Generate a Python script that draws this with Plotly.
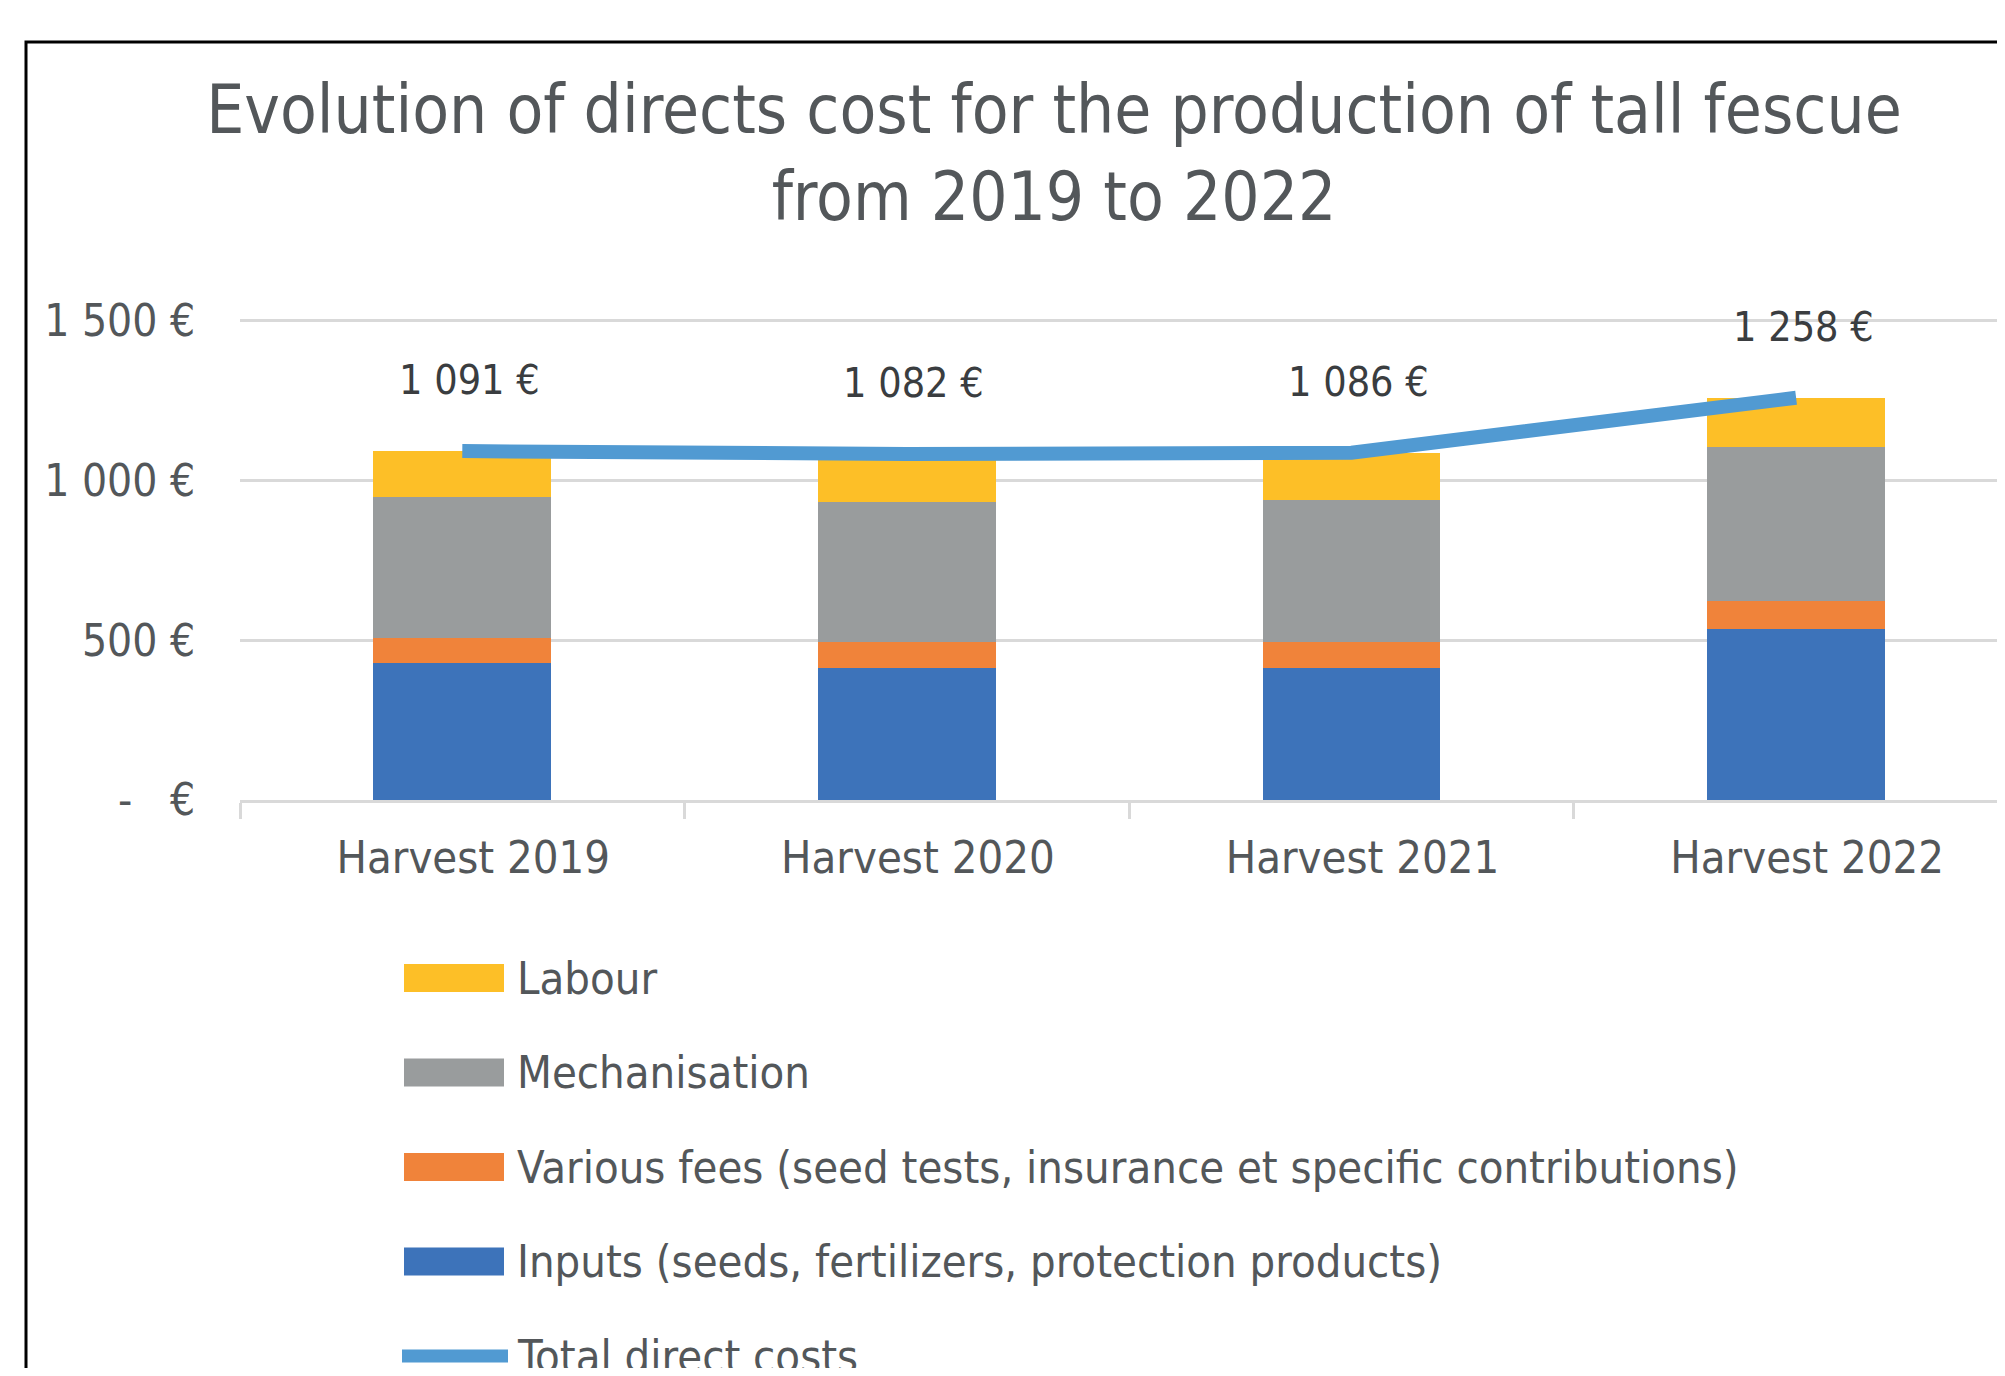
import plotly.graph_objects as go

# ---- data ----
categories = ["Harvest 2019", "Harvest 2020", "Harvest 2021", "Harvest 2022"]
inputs = [427, 412, 412, 534]
fees = [81, 81, 81, 87]
mechanisation = [439, 440, 446, 484]
labour = [144, 149, 147, 153]
totals = [1091, 1082, 1086, 1258]
total_labels = ["1 091 €", "1 082 €", "1 086 €", "1 258 €"]
y_tickvals = [0, 500, 1000, 1500]
y_ticktext = ["-\u00a0\u00a0\u00a0€", "500 €", "1 000 €", "1 500 €"]

series_names = [
    "Inputs (seeds, fertilizers, protection products)",
    "Various fees (seed tests, insurance et specific contributions)",
    "Mechanisation",
    "Labour",
]
colors = {
    "inputs": "#3d73ba",
    "fees": "#f0833a",
    "mech": "#999c9d",
    "labour": "#fdbf27",
    "line": "#519ad2",
}

FONT = "DejaVu Sans Condensed, Liberation Sans Narrow, sans-serif"
TXT = "#53575a"
LBL = "#3a3d40"

# page has an 8px body margin: figure coordinates = reference pixel - 8
OFF = 8
W, H = 2005 - 2 * OFF, 1376 - 2 * OFF
L = 240 - OFF
T = 250 - OFF
BOTTOM = 800 - OFF
R = 0
B = H - BOTTOM
PW, PH = W - L - R, H - T - B
CAT_PX = 444.6


def px(x):
    return (x - OFF - L) / PW


def py(y):
    return (BOTTOM - (y - OFF)) / PH


fig = go.Figure()
for name, vals, c in [
    (series_names[0], inputs, colors["inputs"]),
    (series_names[1], fees, colors["fees"]),
    (series_names[2], mechanisation, colors["mech"]),
    (series_names[3], labour, colors["labour"]),
]:
    fig.add_trace(go.Bar(x=categories, y=vals, name=name, marker=dict(color=c, line=dict(width=0)),
                         showlegend=False))

fig.add_trace(go.Scatter(x=categories, y=totals, name="Total direct costs", mode="lines",
                         line=dict(color=colors["line"], width=14), showlegend=False))

annotations = []
for cat, tot, lab in zip(categories, totals, total_labels):
    annotations.append(dict(x=cat, y=tot, text=lab, showarrow=False, xshift=7, yshift=71,
                            yanchor="middle", font=dict(family=FONT, size=41, color=LBL)))

# legend (manual, to reproduce wide Excel-style keys)
legend_items = [
    ("Labour", colors["labour"], "rect"),
    ("Mechanisation", colors["mech"], "rect"),
    (series_names[1], colors["fees"], "rect"),
    (series_names[0], colors["inputs"], "rect"),
    ("Total direct costs", colors["line"], "line"),
]
shapes = []
row_y0, row_step = 978, 94.5
for i, (name, c, kind) in enumerate(legend_items):
    cy = row_y0 + i * row_step
    if kind == "rect":
        shapes.append(dict(type="rect", xref="paper", yref="paper",
                           x0=px(404), x1=px(504), y0=py(cy - 14), y1=py(cy + 14),
                           fillcolor=c, line=dict(width=0)))
    else:
        shapes.append(dict(type="line", xref="paper", yref="paper",
                           x0=px(402), x1=px(508), y0=py(cy), y1=py(cy),
                           line=dict(color=c, width=13)))
    annotations.append(dict(xref="paper", yref="paper", x=px(515), y=py(cy), text=name,
                            showarrow=False, xanchor="left", yanchor="middle",
                            font=dict(family=FONT, size=45, color=TXT)))

# outer chart border (cropped on right/bottom)
shapes.append(dict(type="rect", xref="paper", yref="paper", x0=px(26), x1=px(2040),
                   y0=py(42), y1=py(1440), line=dict(color="black", width=3),
                   fillcolor="rgba(0,0,0,0)", layer="above"))

fig.update_layout(
    width=W, height=H,
    margin=dict(l=L, r=R, t=T, b=B, autoexpand=False),
    paper_bgcolor="white", plot_bgcolor="white",
    barmode="stack", bargap=0.6,
    title=dict(text="Evolution of directs cost for the production of tall fescue<br>from 2019 to 2022",
               x=(1054 - OFF) / W, xanchor="center", xref="container",
               y=1 - (133 - OFF) / H, yanchor="middle", yref="container",
               font=dict(family=FONT, size=67, color=TXT)),
    font=dict(family=FONT, color=TXT),
    showlegend=False,
    annotations=annotations,
    shapes=shapes,
)
fig.update_xaxes(type="category", range=[-0.5, -0.5 + PW / CAT_PX],
                 showline=True, linecolor="#d9d9d9", linewidth=3,
                 ticks="outside", tickson="boundaries", ticklen=16, tickwidth=3, tickcolor="#d9d9d9",
                 ticklabelshift=11, ticklabelstandoff=16,
                 tickfont=dict(family=FONT, size=45, color=TXT), showgrid=False)
fig.update_yaxes(range=[0, PH / 0.3198], tickvals=y_tickvals, ticktext=y_ticktext,
                 showgrid=True, gridcolor="#d9d9d9", gridwidth=3, zeroline=False,
                 ticks="outside", ticklen=35, tickcolor="rgba(0,0,0,0)",
                 tickfont=dict(family=FONT, size=44, color=TXT))

fig.write_html("out.html")
